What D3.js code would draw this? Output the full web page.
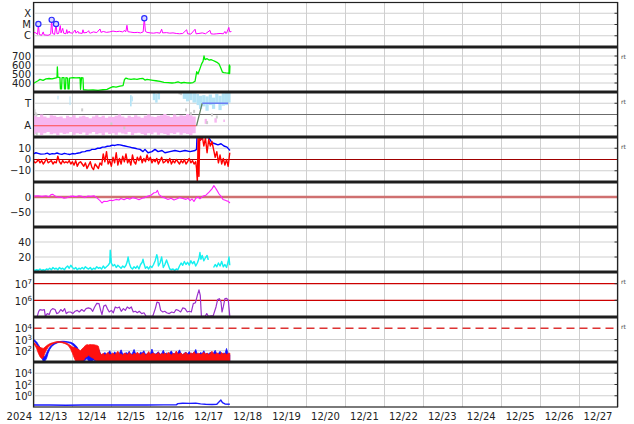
<!DOCTYPE html>
<html><head><meta charset="utf-8">
<script src="https://cdn.jsdelivr.net/npm/d3@7"></script>
<style>html,body{margin:0;padding:0;background:#fff}svg{display:block;font-family:"DejaVu Sans",sans-serif}</style>
</head><body><svg id="chart" width="634" height="424"></svg>
<script>
// ---------------- DATA (hours since 2024-12-13 00:00 UTC) ----------------
const startMs = Date.UTC(2024, 11, 13);
const yearLabel = "2024";
const dayLabels = ["12/13","12/14","12/15","12/16","12/17","12/18","12/19","12/20","12/21","12/22","12/23","12/24","12/25","12/26","12/27"];

// Panel 1: X-ray flux [hour, W/m2]
const xray = [[0,2.0e-6],[1.5,1.8e-6],[2.5,1.3e-6],[3,1.1e-5],[3.6,1.3e-6],[5,1.1e-6],[6,2.2e-6],[6.5,1.2e-6],[9,1.1e-6],[10.6,1.4e-6],[11.2,2.6e-5],[11.8,1.6e-6],[13,1.3e-6],[13.9,1.1e-5],[14.5,1.5e-6],[15.5,1.6e-6],[16.5,8e-6],[17,1.8e-6],[18,4.5e-6],[18.6,1.7e-6],[20,1.5e-6],[20.5,3.5e-6],[21,1.6e-6],[22,2.6e-6],[22.5,1.7e-6],[23,1.9e-6],[24,1.6e-6],[25.6,3.2e-6],[26.2,1.7e-6],[27.3,2.6e-6],[27.8,1.7e-6],[28,1.8e-6],[30,1.6e-6],[30.5,3.4e-6],[31,1.8e-6],[33,2.0e-6],[34,2.8e-6],[34.5,1.8e-6],[35,1.7e-6],[37,2.2e-6],[39,1.9e-6],[41,4.0e-6],[41.6,2.0e-6],[43,2.4e-6],[45,2.0e-6],[47,2.2e-6],[49,2.6e-6],[51,2.3e-6],[53,2.5e-6],[55,2.2e-6],[56.2,3.0e-6],[56.7,2.2e-6],[57,2.6e-6],[57.6,8.5e-6],[58.2,2.3e-6],[60,2.1e-6],[62,1.9e-6],[64,2.0e-6],[66,1.8e-6],[67.6,2.2e-6],[68.3,3.6e-5],[69,2.4e-6],[70,2.0e-6],[72,1.8e-6],[74,1.7e-6],[76,1.9e-6],[78,1.7e-6],[79,3.8e-6],[79.6,1.8e-6],[82,1.9e-6],[84,1.7e-6],[86,1.8e-6],[88,1.6e-6],[90,1.5e-6],[92,1.6e-6],[94.4,3.4e-6],[95,1.5e-6],[97,1.4e-6],[99.6,3.8e-6],[100.2,1.5e-6],[102,1.6e-6],[104,1.8e-6],[106,1.5e-6],[108.8,3.0e-6],[109.4,1.5e-6],[111,1.4e-6],[113,1.5e-6],[115,1.6e-6],[117,1.5e-6],[118,2.4e-6],[118.5,1.6e-6],[119,1.7e-6],[120.4,5.5e-6],[121,2.2e-6],[122,2.4e-6]];
const flares = [[3,1.1e-5],[11.2,2.6e-5],[13.9,1.1e-5],[68.3,3.6e-5]];
const xrayTicks = [1e-4, 1e-5, 1e-6];
const xrayLabels = ["X", "M", "C"];

// Panel 2: solar wind speed [hour, km/s]
const wind = [[0,395],[0.9,405],[2.8,425],[4,440],[5.9,430],[7.7,445],[9.6,450],[11.4,445],[13.3,455],[14.5,460],[14.7,580],[15,465],[16.3,460],[16.6,335],[17.3,335],[17.6,460],[18.8,460],[19.1,335],[19.7,335],[20,460],[21,455],[21.3,335],[21.9,335],[22.2,455],[24.4,460],[26.2,458],[28.7,460],[29,330],[29.6,460],[30.5,458],[30.8,325],[33.6,320],[36.7,322],[39.8,318],[42.8,325],[45.3,330],[47.2,345],[49,360],[50.9,355],[53.3,365],[55.2,370],[56.1,440],[57,455],[58.3,445],[60.1,440],[62,445],[63.8,440],[65.7,448],[67.5,450],[68.7,432],[70,440],[71.8,435],[73.7,430],[75.5,425],[78,418],[80.4,408],[82.9,405],[85.4,400],[87.3,405],[89.1,412],[90.9,400],[92.8,408],[94.6,402],[96.5,400],[98.3,405],[99.6,420],[100.6,525],[101.4,500],[102.6,560],[103.7,615],[104.5,640],[105.1,700],[105.7,660],[107,670],[108.2,655],[109.4,660],[110.7,650],[111.9,640],[113.1,630],[114.4,610],[115.6,560],[116.5,520],[117.4,515],[118.7,512],[119.9,510],[120.5,505],[120.7,600],[120.9,505],[121.1,595]];
const windTicks = [400, 500, 600, 700];

// Panel 3: IMF sector (degrees). Away band every 2 h from hour 0
const pinkHi = [215,205,225,210,200,220,215,205,210,195,215,205,220,200,210,215,205,195,210,220,205,215,200,210,205,215,225,210,200,215,205,220,210,200,215,225,210,205,215,220,230,215,205,225,210,220,215,230,220,210,215];
const pinkLo = [70,80,62,75,85,68,74,60,80,70,74,86,64,76,70,82,62,74,86,68,76,60,82,70,76,64,82,74,68,86,62,76,80,70,60,76,68,82,64,76,70,60,76,70,82,64,76,70,60,76,82];
const aBandsLate = [[105.5,107,150,190],[111.5,113,160,195],[117,118,165,185]];
const tBands = [[14.8,15.4,345,375],[22.2,22.8,300,370],[59.5,60.5,290,380],[60.5,61.2,330,370],[73.5,75,340,400],[75,76.5,320,390],[76.5,78,345,405],[92,94,350,405],[94,96,330,400],[96,98,340,405],[98,100.5,320,395],[100.5,102,300,390],[102,104,270,375],[104,106,290,380],[106,108,255,370],[108,110,300,385],[110,112,270,360],[112,114,310,390],[114,116,260,375],[116,118,295,395],[118,120,300,405],[120,121.5,320,405]];
const grayPts = [[0,245],[0.6,255],[1.2,232],[1.8,222],[2,70],[30,262],[48,150],[56,118],[90,398],[91,392],[94,262],[97,232],[99,250],[110,222],[113,205],[107,160]];
const sectorAway = [[0,135],[100.5,135]];
const sectorTurn = [[100.5,135],[104,315]];
const sectorToward = [[104,315],[120,315]];
const sectorTicks = [315, 135];
const sectorLabels = ["T", "A"];

// Panel 4: Bt, Bz [hour, nT]
const bt = [[0,5],[1.5,6],[2.8,5.5],[4.5,4.8],[7,5],[8.5,5.6],[10,4.5],[11.5,5.2],[13,5],[14.5,5.8],[16,5],[17.5,4.6],[19,5.5],[20.5,5],[22.5,4.5],[24,5.3],[25.6,5],[27,5.6],[28.7,6],[30,6.8],[31.7,7],[33,7.8],[34.8,8],[36,9],[37.9,9],[39.5,10],[41,10],[42.5,11],[44,11],[45.5,11.8],[47.2,12],[48.5,12.8],[50.2,12.5],[52,13.2],[53.3,13],[55,12.4],[56.4,12],[58,11.5],[59.5,11],[61,10.4],[62.6,10],[64,9.4],[65.7,9],[67.5,7],[68.7,9],[70.6,6],[73,7],[74.9,9],[76.8,7],[79.2,8],[81,6],[84.1,7],[87.2,8],[90.3,7],[93.4,8],[96.5,7],[99.6,8],[100.5,9],[100.8,22],[102,22],[103.3,18],[104.5,20],[106.3,21],[108.2,19],[110,15],[111.9,14],[113.7,13],[115.6,14],[117.4,12],[119.3,11],[120.5,9],[121.1,8]];
const bz = [[0,-1],[1,-3],[2,-2],[3,0],[4,-3],[5,-1],[6,-4],[7,-2],[8,1],[9,-3],[10,-2],[11,-1],[12,-4],[13,-2],[14,-3],[15,3],[16,-2],[17,-4],[18,-1],[19,-3],[20,-2],[21,-3],[22,-1],[23,-4],[24,-2],[25,-5],[26,-1],[27,-6],[28,-3],[29,-2],[30,-4],[31,-6],[32,-3],[33,-8],[34,-5],[35,-2],[36,-7],[37,-9],[38,-4],[39,-6],[40,-8],[41,-3],[42,-5],[43,5],[44,-2],[45,7],[46,-4],[47,-1],[48,-6],[49,2],[50,-3],[51,6],[52,-5],[53,1],[54,-4],[55,3],[56,-2],[57,5],[58,-3],[59,0],[60,-5],[61,4],[62,-2],[63,-4],[64,2],[65,-1],[66,3],[67,-3],[68,1],[69,-2],[70,4],[71,-1],[72,2],[73,-3],[74,0],[75,-2],[76,1],[77,-4],[78,-1],[79,2],[80,-3],[81,-2],[82,0],[83,-3],[84,1],[85,-4],[86,-1],[87,-3],[88,0],[89,-2],[90,-4],[91,-1],[92,-3],[93,0],[94,-4],[95,-2],[96,1],[97,-3],[98,-1],[99,-4],[100,-2],[100.5,-8],[101,-20],[101.5,21],[102,-15],[102.5,22],[103,17],[104,21],[105,12],[106,19],[107,6],[108,18],[109,12],[110,16],[111,9],[112,2],[113,7],[114,-3],[115,4],[116,-4],[117,1],[118,-5],[119,0],[120,-6],[121,6]];
const bTicks = [10, 0, -10];

// Panel 5: Dst-like index [hour, nT]
const dst = [[0,3],[2.8,4],[5.2,2],[7.7,4],[9.6,1],[10.8,8],[12,9],[13.3,3],[15.1,-1],[17,0],[18.8,-4],[20.7,-2],[22.5,2],[24.4,3],[26.2,1],[28,4],[29.9,2],[31.7,-2],[33.6,3],[35.4,2],[37.3,4],[39.1,-3],[41,-12],[42.2,-20],[43.5,-14],[45.3,-15],[47.2,-11],[49,-12],[50.9,-8],[52.7,-10],[53.9,-5],[55.8,-9],[57.6,-4],[59.5,-7],[61.3,-2],[63.2,-5],[65,-9],[66.9,-4],[68.7,-2],[70.6,3],[72.4,6],[74.3,14],[75.5,15],[76.4,22],[77.4,8],[79.2,0],[81,-3],[82.9,-8],[84.8,-4],[86.6,-10],[88.5,-6],[90.3,-2],[92.1,-5],[94,-8],[95.2,-4],[96.5,-12],[97.7,-6],[98.9,-15],[100.2,-3],[101.4,0],[102.6,-6],[104.5,3],[106.3,6],[108.2,16],[110,27],[111.2,38],[112.2,30],[113.1,22],[114.4,10],[115.6,2],[116.8,-8],[118.7,-12],[119.9,-14],[121.1,-20]];
const dstTicks = [0, -50];

// Panel 6: density-like [hour, value]
const dens = [[0,3],[1,2],[2,3],[3,2],[4,4],[5,2],[6,3],[7,2],[8,4],[9,3],[10,5],[11,3],[12,6],[13,4],[14,5],[15,3],[16,6],[17,4],[18,5],[19,3],[20,6],[21,8],[22,5],[23,9],[24,6],[25,4],[26,6],[27,3],[28,5],[29,4],[30,6],[31,4],[32,7],[33,5],[34,4],[35,6],[36,3],[37,5],[38,4],[39,7],[40,5],[41,6],[42,4],[43,8],[44,5],[45,7],[46,9],[47,12],[47.3,29],[47.7,20],[48,12],[49,8],[50,10],[51,6],[52,9],[53,7],[54,5],[55,8],[56,6],[57,9],[57.8,14],[58.3,20],[59,12],[60,6],[61,4],[62,7],[63,5],[64,8],[65,4],[66,10],[67,13],[67.5,17],[68,12],[69,5],[70,7],[71,4],[72,8],[73,6],[74,10],[75,15],[76,23],[76.6,18],[77,8],[78,12],[79,20],[79.8,9],[80,6],[81,10],[82,16],[83,10],[84,4],[85,3],[86,4],[87,2],[88,4],[89,3],[90,8],[91,12],[92,9],[93,14],[94,10],[95,13],[96,9],[97,15],[98,11],[99,14],[100,8],[101,12],[102,18],[102.6,26],[103.2,17],[104,22],[105,15],[106,19],[107,22],[107.6,17],[108,18],[108.5,null],[111,6],[112,10],[113,7],[114,12],[115,8],[116,14],[117,7],[118,10],[119,6],[120,14],[120.5,20],[121,9]];
const densTicks = [40, 20];

// Panel 7: electron flux-like [hour, value]
const eflux = [[2.3,1.1e5],[3.2,2.2e5],[4,2.8e5],[5.4,2.6e5],[6.7,2.8e5],[7.3,1.1e5],[8.5,1.6e5],[9.7,1.4e5],[10.6,2.5e5],[11.8,3.2e5],[13.3,2.8e5],[14.3,1.6e5],[15.5,1.8e5],[16.8,2.8e5],[18,2.2e5],[19.2,3.2e5],[20.2,1.6e5],[21.5,2.0e5],[22.9,2.0e5],[24.2,1.6e5],[25.6,2.2e5],[27,2.5e5],[28.2,2.0e5],[29.7,2.8e5],[31.1,2.2e5],[32.4,3.2e5],[33.8,3.5e5],[35.3,3.2e5],[36.5,2.2e5],[37.7,4.0e5],[39,6.6e5],[40.4,6.3e5],[41.4,2.5e5],[42.2,1.4e5],[43.3,4.5e5],[44.5,5.2e5],[45.5,3.2e5],[46.7,2.0e5],[48,2.5e5],[49.2,1.8e5],[50.4,4.0e5],[51.7,3.5e5],[52.9,4.0e5],[54.1,2.2e5],[55.4,3.2e5],[56.6,2.5e5],[57.8,4.0e5],[59.1,3.2e5],[60.3,4.0e5],[61.5,2.0e5],[62.8,2.2e5],[64,1.8e5],[65.2,2.2e5],[66.7,1.6e5],[68.1,1.8e5],[69.4,1.1e5],[73.5,1.1e5],[75.1,3.2e5],[76.1,7.9e5],[77.4,7.1e5],[78.4,2.5e5],[79.7,2.0e5],[80.9,2.2e5],[82.1,1.8e5],[83.7,1.6e5],[85.2,2.0e5],[86.6,1.8e5],[87.9,2.8e5],[89.3,2.5e5],[90.7,2.0e5],[92,3.5e5],[93.4,3.2e5],[94.8,2.0e5],[96.1,2.2e5],[97.3,2.0e5],[98.5,6.3e5],[99.8,7.1e5],[101,2.0e6],[102,4.2e6],[102.8,2.0e6],[103.5,1.1e5],[105.8,1.1e5],[106.8,1.6e5],[107.8,1.1e5],[110.8,1.2e5],[112.5,4.0e5],[113.5,1.1e6],[114.6,1.26e6],[115.6,7.9e5],[116.2,2.0e5],[117,4.0e5],[118,1.26e6],[119.1,1.3e6],[120.1,1.0e6],[121,1.1e5]];
const efluxTicks = [1e7, 1e6];

// Panel 8: proton flux-like [hour, low, high] then hourly highs from hour 42
const p8Blue = [[0,800,1100],[1,600,800],[2,350,600],[3,200,350],[4,100,200],[5,30,100],[6,11,40],[7,12,30],[8,20,60],[9,60,120],[10,130,200],[11,220,300],[12,300,400],[13,380,480],[14,450,550],[15,520,620],[16,560,660],[17,600,680],[18,620,700],[19,600,690],[20,580,660],[21,550,640],[22,500,600],[23,450,560],[24,350,480],[25,250,400],[26,120,300],[27,60,200],[28,20,100],[29,11,40],[30,11,30],[31,11,40],[32,15,150],[33,20,200],[34,12,180],[35,11,200],[36,11,120],[37,15,250],[38,12,200],[39,15,250],[40,11,150],[41,16,70]];
const p8Red = [[0,400,550],[1,300,450],[2,150,300],[3,60,250],[4,30,200],[5,20,180],[6,25,160],[7,60,200],[8,120,280],[9,200,350],[10,280,420],[11,350,480],[12,420,520],[13,480,580],[14,520,640],[15,550,650],[16,560,640],[17,540,620],[18,500,600],[19,450,560],[20,390,500],[21,320,430],[22,230,350],[23,130,280],[24,60,220],[25,25,200],[26,12,180],[27,11,150],[28,11,120],[29,11,100],[30,11,150],[31,15,200],[32,25,300],[33,30,350],[34,40,330],[35,30,360],[36,25,340],[37,20,350],[38,15,320],[39,12,300],[40,11,250],[41,11,60]];
const p8RedHi = [45,60,40,55,70,42,50,65,45,58,90,48,52,40,62,55,45,70,50,42,60,48,75,52,44,58,66,40,50,85,46,55,62,48,52,70,44,58,50,64,46,72,54,40,60,50,95,48,56,62,45,58,70,50,44,66,52,80,48,55,60,46,52,75,50,62,44,58,90,52,48,64,55,42,70,50,60,46,58,62];
const p8BlueHi = [40,50,70,45,60,100,50,40,80,55,45,60,120,50,48,70,55,90,45,60,130,50,55,42,75,60,100,48,52,65,45,140,55,50,60,80,48,55,110,50,62,45,70,95,50,58,48,66,120,52,45,60,75,50,85,48,56,62,130,50,45,70,55,100,48,60,52,75,45,65,110,50,58,90,48,60,55,160,50,45];
const p8Ticks = [1e4, 1e3, 1e2];
const p8Exps = ["4", "3", "2"];

// Panel 9: [hour, value]
const p9 = [[0,0.022],[10,0.023],[20,0.021],[30,0.023],[40,0.022],[50,0.024],[60,0.022],[70,0.023],[80,0.024],[88,0.024],[89,0.04],[92,0.046],[96,0.045],[100,0.048],[103,0.036],[106,0.03],[110,0.028],[113,0.03],[114.5,0.09],[115.5,0.17],[116.5,0.06],[118,0.035],[121,0.03]];
const p9Ticks = [1e4, 1e2, 1e0];
const p9Exps = ["4", "2", "0"];

// ---------------- DRAWING ----------------
const svg = d3.select("#chart");
svg.append("rect").attr("width", 634).attr("height", 424).attr("fill", "#fff");
const L = 33.5, R = 617.5, TOP = 2, PH = 45;
const x = d3.scaleUtc().domain([new Date(startMs), new Date(startMs + 15 * 864e5)]).range([L, R]);
const t = h => new Date(startMs + h * 36e5);
const GRID = "#cfcfcf";

const layerGrid = svg.append("g");
const layerData = svg.append("g");
const layerFrame = svg.append("g");
const defs = svg.append("defs");

// vertical day grid
const dayTicks = x.ticks(d3.utcDay.every(1));
layerGrid.selectAll("line.v").data(dayTicks).join("line")
  .attr("x1", d => Math.round(x(d)) + 0.5).attr("x2", d => Math.round(x(d)) + 0.5)
  .attr("y1", TOP).attr("y2", TOP + 9 * PH).attr("stroke", GRID).attr("stroke-width", 1);

function panel(i, y) {
  const top = TOP + i * PH, bot = top + PH;
  y.range([bot, top]);
  defs.append("clipPath").attr("id", "cp" + i).append("rect")
    .attr("x", L).attr("y", top).attr("width", R - L).attr("height", PH);
  const g = layerData.append("g").attr("clip-path", `url(#cp${i})`);
  return { i, top, bot, y, g };
}
function hgrid(p, vals, color, width, dash) {
  vals.forEach(v => {
    const yy = p.y(v);
    layerGrid.append("line").attr("x1", L).attr("x2", R).attr("y1", yy).attr("y2", yy)
      .attr("stroke", color || GRID).attr("stroke-width", width || 1)
      .attr("stroke-dasharray", dash || null);
    layerFrame.append("line").attr("x1", R - 3).attr("x2", R).attr("y1", yy).attr("y2", yy)
      .attr("stroke", "#333").attr("stroke-width", 1);
  });
}
function overLine(p, v, color, width, dash) {
  const yy = p.y(v);
  p.g.append("line").attr("x1", L).attr("x2", R).attr("y1", yy).attr("y2", yy)
    .attr("stroke", color).attr("stroke-width", width).attr("stroke-dasharray", dash || null);
}
function label(p, v, txt, exp) {
  const tx = layerFrame.append("text").attr("x", exp ? 32 : 31).attr("y", p.y(v)).attr("dy", exp ? "0.42em" : "0.36em")
    .attr("text-anchor", "end").attr("font-size", 10).attr("fill", "#222");
  tx.append("tspan").text(txt);
  if (exp !== undefined) tx.append("tspan").attr("font-size", 7).attr("dy", "-0.55em").text(exp);
}
function lineOf(p, data, color, width) {
  p.g.append("path").datum(data)
    .attr("d", d3.line().defined(d => d[1] !== null).x(d => x(t(d[0]))).y(d => p.y(d[1])))
    .attr("fill", "none").attr("stroke", color).attr("stroke-width", width || 1).attr("stroke-linejoin", "round");
}
function rtLabel(p) {
  layerFrame.append("text").attr("x", 621).attr("y", p.top + 12).attr("font-size", 6).attr("fill", "#444").text("rt");
}

// Panel 1: X-ray
const p1 = panel(0, d3.scaleLog().domain([1e-7, 1e-3]));
hgrid(p1, xrayTicks);
xrayTicks.forEach((v, k) => label(p1, v, xrayLabels[k]));
lineOf(p1, xray, "#ff00ff", 1);
p1.g.selectAll("circle").data(flares).join("circle")
  .attr("cx", d => x(t(d[0]))).attr("cy", d => p1.y(d[1])).attr("r", 2.6)
  .attr("fill", "#d8d8ff").attr("stroke", "#2b2bff").attr("stroke-width", 1.2);

// Panel 2: wind speed
const p2 = panel(1, d3.scaleLinear().domain([300, 800]));
hgrid(p2, windTicks);
windTicks.forEach(v => label(p2, v, String(v)));
lineOf(p2, wind, "#00ee00", 1.3);
rtLabel(p2);

// Panel 3: sector
const p3 = panel(2, d3.scaleLinear().domain([45, 405]));
hgrid(p3, sectorTicks);
overLine(p3, 225, "#6b6b6b", 1);
sectorTicks.forEach((v, k) => label(p3, v, sectorLabels[k]));
const pinkData = pinkHi.map((h, k) => [k * 2, pinkLo[k], h]);
p3.g.append("path").datum(pinkData)
  .attr("d", d3.area().curve(d3.curveStepAfter).x(d => x(t(d[0]))).y0(d => p3.y(d[1])).y1(d => p3.y(d[2])))
  .attr("fill", "#f7b6f1");
p3.g.selectAll("rect.a").data(aBandsLate).join("rect")
  .attr("x", d => x(t(d[0]))).attr("width", d => x(t(d[1])) - x(t(d[0])))
  .attr("y", d => p3.y(d[3])).attr("height", d => p3.y(d[2]) - p3.y(d[3])).attr("fill", "#f7b6f1");
p3.g.selectAll("rect.t").data(tBands).join("rect")
  .attr("x", d => x(t(d[0]))).attr("width", d => x(t(d[1])) - x(t(d[0])))
  .attr("y", d => p3.y(d[3])).attr("height", d => p3.y(d[2]) - p3.y(d[3])).attr("fill", "#b3e3f6");
p3.g.selectAll("rect.g").data(grayPts).join("rect")
  .attr("x", d => x(t(d[0])) - 1).attr("y", d => p3.y(d[1]) - 1.5).attr("width", 2).attr("height", 3).attr("fill", "#cccccc");
lineOf(p3, sectorAway, "#ff4a4a", 1.2);
lineOf(p3, sectorTurn, "#5f7f5f", 1.2);
lineOf(p3, sectorToward, "#6b7cf2", 1.4);
rtLabel(p3);

// Panel 4: Bt / Bz
const p4 = panel(3, d3.scaleLinear().domain([-20, 20]));
hgrid(p4, [10, -10]);
overLine(p4, 0, "#a00000", 1.2);
bTicks.forEach(v => label(p4, v, v < 0 ? "\u2212" + Math.abs(v) : String(v)));
lineOf(p4, bt, "#0000ff", 1.4);
lineOf(p4, bz, "#ff0000", 1.4);
rtLabel(p4);

// Panel 5: Dst
const p5 = panel(4, d3.scaleLinear().domain([-100, 50]));
hgrid(p5, [-50]);
overLine(p5, 0, "#cf7070", 2.6);
dstTicks.forEach(v => label(p5, v, v < 0 ? "\u2212" + Math.abs(v) : String(v)));
lineOf(p5, dst, "#ff1eff", 1.1);

// Panel 6: density
const p6 = panel(5, d3.scaleLinear().domain([0, 60]));
hgrid(p6, densTicks);
densTicks.forEach(v => label(p6, v, String(v)));
lineOf(p6, dens, "#14f0f0", 1.4);

// Panel 7: electron flux
const p7 = panel(6, d3.scaleLog().domain([1e5, Math.pow(10, 7.7)]));
overLine(p7, 1e7, "#cc0000", 1.2);
overLine(p7, 1e6, "#cc0000", 1.2);
efluxTicks.forEach(v => { const yy = p7.y(v); layerFrame.append("line").attr("x1", R - 3).attr("x2", R).attr("y1", yy).attr("y2", yy).attr("stroke", "#333"); });
label(p7, 1e7, "10", "7");
label(p7, 1e6, "10", "6");
lineOf(p7, eflux, "#9a30cc", 1.2);
rtLabel(p7);

// Panel 8: proton flux
const p8 = panel(7, d3.scaleLog().domain([10, 1e5]));
hgrid(p8, [1e3, 1e2]);
overLine(p8, 1e4, "#dd3333", 1.5, "8,5");
p8Ticks.forEach((v, k) => label(p8, v, "10", p8Exps[k]));
const blueAll = p8Blue.concat(p8BlueHi.map((v, k) => [42 + k, 11, v]));
const redAll = p8Red.concat(p8RedHi.map((v, k) => [42 + k, 10, v]));
const bandArea = d3.area().x(d => x(t(d[0]))).y0(d => p8.y(d[1])).y1(d => p8.y(d[2]));
p8.g.append("path").datum(blueAll).attr("d", bandArea).attr("fill", "#1010ff").attr("stroke", "#1010ff").attr("stroke-width", 0.8);
p8.g.append("path").datum(redAll).attr("d", bandArea).attr("fill", "#ff1010").attr("stroke", "#ff1010").attr("stroke-width", 0.8);
rtLabel(p8);

// Panel 9
const p9p = panel(8, d3.scaleLog().domain([1e-2, 1e6]));
hgrid(p9p, p9Ticks);
p9Ticks.forEach((v, k) => label(p9p, v, "10", p9Exps[k]));
lineOf(p9p, p9, "#1a1aff", 1.4);

// frame: separators and border
for (let i = 1; i < 9; i++) {
  const yy = TOP + i * PH;
  layerFrame.append("line").attr("x1", L - 0.5).attr("x2", R + 0.5).attr("y1", yy).attr("y2", yy)
    .attr("stroke", "#1e1e1e").attr("stroke-width", 3);
}
layerFrame.append("rect").attr("x", L).attr("y", TOP + 0.5).attr("width", R - L).attr("height", 9 * PH - 0.5)
  .attr("fill", "none").attr("stroke", "#222").attr("stroke-width", 1.2);

// bottom labels
layerFrame.append("text").attr("x", 32).attr("y", 419.5).attr("text-anchor", "end")
  .attr("font-size", 10).attr("fill", "#222").text(yearLabel);
layerFrame.selectAll("text.day").data(dayLabels).join("text")
  .attr("x", (d, k) => x(new Date(startMs + (k + 0.5) * 864e5))).attr("y", 419.5)
  .attr("text-anchor", "middle").attr("font-size", 10).attr("fill", "#222").text(d => d);
</script>
</body></html>
